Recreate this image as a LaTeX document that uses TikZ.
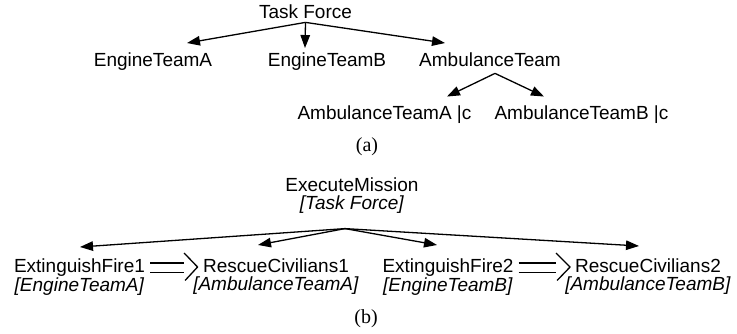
\documentclass[tikz,border=0pt]{standalone}
\usepackage{fontspec}
\setmainfont{Liberation Serif}
\setsansfont{Liberation Sans}
\usetikzlibrary{arrows.meta}

\begin{document}
\begin{tikzpicture}[x=1pt,y=-1pt,
    every node/.style={inner sep=0pt},
    team/.style={font=\sffamily\fontsize{19}{17.5}\selectfont, anchor=base},
    task/.style={font=\sffamily\fontsize{19}{17.5}\selectfont, align=center, anchor=north},
    caption/.style={font=\fontsize{20}{22}\selectfont, anchor=base},
    sub/.style={-{Triangle[length=13pt,width=9.5pt]}, line width=1.3pt},
    seq/.style={line width=1.3pt}
]
\useasboundingbox (0,0) rectangle (737,334);

% (a) team hierarchy
\node[team] (tf)  at (305.5,19) {Task Force};
\node[team] (eta) at (153,67)   {EngineTeamA};
\node[team] (etb) at (327,67)   {EngineTeamB};
\node[team] (amb) at (490,67)   {AmbulanceTeam};
\node[team] (ata) at (384.5,120) {AmbulanceTeamA |c};
\node[team] (atb) at (581.5,120) {AmbulanceTeamB |c};
\node[caption] (capa) at (367,152) {(a)};

\draw[sub] ([yshift=-3pt]tf.south) -- ([shift={(34,-10)}]eta.north);
\draw[sub] ([yshift=-3pt]tf.south) -- ([shift={(-22,-5)}]etb.north);
\draw[sub] ([yshift=-3pt]tf.south) -- ([shift={(-45,-10)}]amb.north);
\draw[sub] ([shift={(5,6)}]amb.south) -- ([shift={(62.5,-9.5)}]ata.north);
\draw[sub] ([shift={(5,6)}]amb.south) -- ([shift={(-37.5,-9.5)}]atb.north);

% (b) mission decomposition
\node[task] (em)  at (352,178) {ExecuteMission\\\textit{[Task Force]}};
\node[task] (ef1) at (79.5,259) {ExtinguishFire1\\\textit{[EngineTeamA]}};
\node[task] (rc1) at (276,259)  {RescueCivilians1\\\textit{[AmbulanceTeamA]}};
\node[task] (ef2) at (448,259)  {ExtinguishFire2\\\textit{[EngineTeamB]}};
\node[task] (rc2) at (648,259)  {RescueCivilians2\\\textit{[AmbulanceTeamB]}};
\node[caption] (capb) at (366,323) {(b)};

\draw[sub] ([shift={(-7,15)}]em.south) -- ([shift={(0.5,-12)}]ef1.north);
\draw[sub] ([shift={(-7,15)}]em.south) -- ([shift={(-18,-14)}]rc1.north);
\draw[sub] ([shift={(-7,15)}]em.south) -- ([shift={(-11,-14)}]ef2.north);
\draw[sub] ([shift={(-7,15)}]em.south) -- ([shift={(-9,-13)}]rc2.north);

% sequence
\draw[seq] ([shift={(5,4)}]ef1.north east) -- ([shift={(-9,4)}]rc1.north west);
\draw[seq] ([shift={(5,13.5)}]ef1.north east) -- ([shift={(-9,13.5)}]rc1.north west);
\draw[seq] ([shift={(-9,-6)}]rc1.north west) -- ([shift={(4.5,8)}]rc1.north west) -- ([shift={(-8,21.5)}]rc1.north west);

\draw[seq] ([shift={(5,4)}]ef2.north east) -- ([shift={(-9,4)}]rc2.north west);
\draw[seq] ([shift={(5,13.5)}]ef2.north east) -- ([shift={(-9,13.5)}]rc2.north west);
\draw[seq] ([shift={(-9,-6)}]rc2.north west) -- ([shift={(5,8)}]rc2.north west) -- ([shift={(-8,21.5)}]rc2.north west);

\end{tikzpicture}
\end{document}
